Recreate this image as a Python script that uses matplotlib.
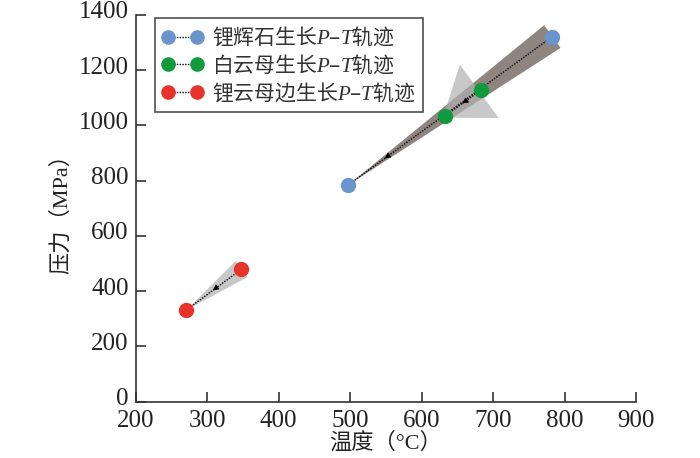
import numpy as np
import matplotlib
matplotlib.use("Agg")
import matplotlib.pyplot as plt
import matplotlib.transforms as mtransforms
from matplotlib.patches import Polygon

plt.rcParams['font.family'] = ['Liberation Serif', 'Noto Sans CJK SC', 'DejaVu Sans']
plt.rcParams['mathtext.fontset'] = 'custom'
plt.rcParams['mathtext.rm'] = 'Noto Sans CJK SC'
plt.rcParams['mathtext.it'] = 'Liberation Serif:italic'
plt.rcParams['mathtext.bf'] = 'Liberation Serif:bold'

# ---- data ----
spod_T = [497, 783]      # 锂辉石
spod_P = [784, 1322]
musc_T = [633, 683]      # 白云母
musc_P = [1035, 1128]
lepi_T = [271, 348]      # 锂云母边
lepi_P = [332, 480]

labels = [r'$\mathrm{锂辉石生长}P\mathrm{–}T\mathrm{轨迹}$',
          r'$\mathrm{白云母生长}P\mathrm{–}T\mathrm{轨迹}$',
          r'$\mathrm{锂云母边生长}P\mathrm{–}T\mathrm{轨迹}$']
colors = ['#6a94cc', '#0f9a3e', '#e8332b']
xticks = [200, 300, 400, 500, 600, 700, 800, 900]
yticks = [0, 200, 400, 600, 800, 1000, 1200, 1400]

fig = plt.figure(figsize=(7.0, 4.58), dpi=100)
ax = fig.add_axes([135.7/700, 56.3/458, 500.3/700, 386.7/458])
ax.set_xlim(200, 900)
ax.set_ylim(0, 1400)
ax.set_xticks(xticks)
ax.set_yticks(yticks)
for s in ['top', 'right']:
    ax.spines[s].set_visible(False)
for s in ['left', 'bottom']:
    ax.spines[s].set_color('#333333')
    ax.spines[s].set_linewidth(1.2)
ax.tick_params(direction='in', length=7, width=1.2, color='#333333',
               labelsize=18, labelcolor='#222222')
ax.tick_params(axis='x', pad=6)
ax.tick_params(axis='y', pad=5)
ax.set_xlabel('温度（°C）', fontsize=16, labelpad=0, color='#222222')
ax.set_ylabel('压力（MPa）', fontsize=16, labelpad=5, color='#222222')

# y tick labels sit slightly above their ticks, as in the reference
offset = mtransforms.ScaledTranslation(0, 5/100, fig.dpi_scale_trans)
for lab in ax.get_yticklabels():
    lab.set_transform(lab.get_transform() + offset)

tr = ax.transData


def disp(x, y):
    return np.array(tr.transform((x, y)))


def wedge(T, P, half, color, z, alpha=1.0):
    a = disp(T[0], P[0])
    b = disp(T[1], P[1])
    d = b - a
    u = d / np.hypot(*d)
    n = np.array([-u[1], u[0]])
    pts = [a, b + n * half, b - n * half]
    ax.add_patch(Polygon(pts, closed=True, transform=None, facecolor=color,
                         edgecolor='none', zorder=z, alpha=alpha))


# large brown wedge along spodumene path
wedge(spod_T, spod_P, 14, '#8e8581', 1)
# grey wedge along lepidolite rim path
wedge(lepi_T, lepi_P, 10, '#c8c8c8', 1)

# light grey arrowhead near muscovite
a = disp(spod_T[0], spod_P[0])
b = disp(spod_T[1], spod_P[1])
u = (a - b) / np.hypot(*(a - b))
n = np.array([-u[1], u[0]])
base = disp(musc_T[1], musc_P[1]) + u * 2
tip = base + u * 45
ax.add_patch(Polygon([tip, base + n * 33, base - n * 33], closed=True, transform=None,
                     facecolor='#b1b1b1', edgecolor='none', alpha=0.7, zorder=2))

series = [(spod_T, spod_P), (musc_T, musc_P), (lepi_T, lepi_P)]
arrow_frac = [0.8, 0.5, 0.5]
for (T, P), lab, c, f in zip(series, labels, colors, arrow_frac):
    ax.plot(T, P, linestyle=(0, (1, 1)), color='black', lw=1.0,
            marker='o', markersize=10, markerfacecolor=c, markeredgecolor=c,
            label=lab, zorder=4)
    # direction arrow (from high to low)
    x1 = T[1] + (T[0] - T[1]) * f
    y1 = P[1] + (P[0] - P[1]) * f
    x2 = T[1] + (T[0] - T[1]) * (f + 0.02)
    y2 = P[1] + (P[0] - P[1]) * (f + 0.02)
    ax.annotate('', xy=(x2, y2), xytext=(x1, y1),
                arrowprops=dict(arrowstyle='-|>', color='black', lw=0.5,
                                mutation_scale=9, shrinkA=0, shrinkB=0),
                zorder=5)

leg = ax.legend(loc='upper left', bbox_to_anchor=(19/500.3, 1 - 3/386.7), borderaxespad=0,
                fontsize=15, numpoints=2, handlelength=2.0, handletextpad=0.4,
                frameon=True, fancybox=False, edgecolor='#222222',
                borderpad=0.35, labelspacing=0.2, markerscale=0.95)
leg.get_frame().set_linewidth(1.2)
for t in leg.get_texts():
    t.set_color('#333333')

fig.savefig('out.png', dpi=100)
